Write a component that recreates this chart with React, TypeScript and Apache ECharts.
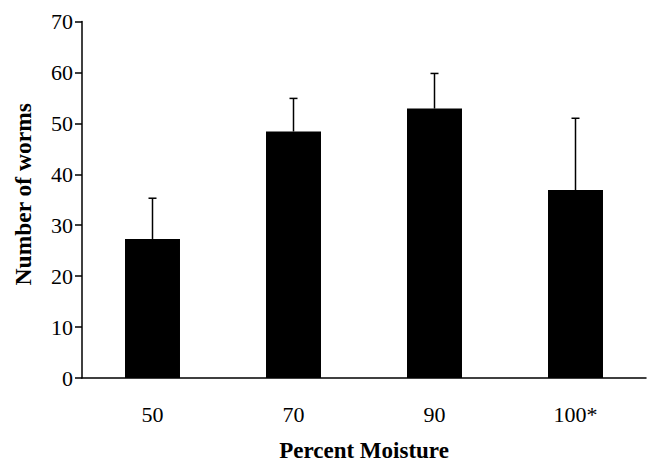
import React, { useEffect, useRef } from "react";
import * as echarts from "echarts";

const categories = ["50", "70", "90", "100*"];
const meanWorms = [27.3, 48.4, 52.9, 36.9];
const errorWorms = [8.0, 6.5, 6.9, 14.1];
const yMin = 0;
const yMax = 70;
const yStep = 10;

const FONT = "'Liberation Serif', 'Times New Roman', serif";

export default function App() {
  const ref = useRef<HTMLDivElement>(null);

  useEffect(() => {
    if (!ref.current) return;
    const chart = echarts.init(ref.current, undefined, { renderer: "svg" });
    const errData = categories.map((_, i) => [i, meanWorms[i], meanWorms[i] + errorWorms[i]]);
    chart.setOption({
      animation: false,
      backgroundColor: "#ffffff",
      grid: { left: 82, right: 1, top: 21.5, bottom: 85, outerBoundsMode: "none", containLabel: false },
      xAxis: {
        type: "category",
        data: categories,
        name: "Percent Moisture",
        nameLocation: "middle",
        nameGap: 63,
        nameTextStyle: { fontFamily: FONT, fontWeight: "bold", fontSize: 23, lineHeight: 18, color: "#000" },
        axisLine: { lineStyle: { color: "#000", width: 1.5 } },
        axisTick: { show: false },
        axisLabel: { fontFamily: FONT, fontSize: 22, color: "#000", margin: 25 },
        splitLine: { show: false },
      },
      yAxis: {
        type: "value",
        min: yMin,
        max: yMax,
        interval: yStep,
        name: "Number of worms",
        nameLocation: "middle",
        nameGap: 47,
        nameTextStyle: {
          fontFamily: FONT,
          fontWeight: "bold",
          fontSize: 23.5,
          color: "#000",
          padding: [0, 0, 0, 11],
        },
        axisLine: { show: true, lineStyle: { color: "#000", width: 1.5 } },
        axisTick: { show: true, length: 7, inside: false, lineStyle: { color: "#000", width: 1.5 } },
        axisLabel: { fontFamily: FONT, fontSize: 22, color: "#000", margin: 9 },
        splitLine: { show: false },
      },
      series: [
        {
          type: "bar",
          data: meanWorms,
          barWidth: "39%",
          itemStyle: { color: "#000" },
          z: 2,
        },
        {
          type: "custom",
          data: errData,
          z: 3,
          renderItem: (params: any, api: any) => {
            const i = api.value(0);
            const base = api.coord([i, api.value(1)]);
            const top = api.coord([i, api.value(2)]);
            const half = 4;
            const style = { stroke: "#000", lineWidth: 1.5 };
            return {
              type: "group",
              children: [
                { type: "line", shape: { x1: base[0], y1: base[1], x2: top[0], y2: top[1] }, style },
                { type: "line", shape: { x1: top[0] - half, y1: top[1], x2: top[0] + half, y2: top[1] }, style },
              ],
            };
          },
        },
      ],
    });
    return () => chart.dispose();
  }, []);

  return (
    <div
      ref={ref}
      style={{ position: "fixed", left: 0, top: 0, width: 647, height: 463 }}
    />
  );
}
